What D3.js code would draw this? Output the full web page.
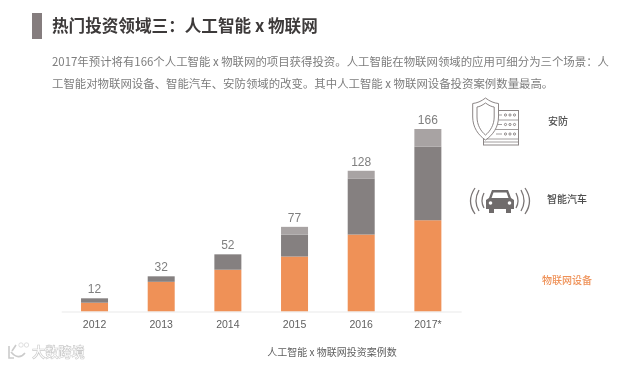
<!DOCTYPE html>
<html>
<head>
<meta charset="utf-8">
<script src="https://cdn.jsdelivr.net/npm/d3@7"></script>
<style>
html,body{margin:0;padding:0;background:#fff;}
svg{display:block;filter:blur(0.35px);}
text{font-family:"Noto Sans CJK SC","Liberation Sans",sans-serif;}
</style>
</head>
<body>
<svg id="chart" width="640" height="365"></svg>
<script>
// 数据
var years = ['2012','2013','2014','2015','2016','2017*'];
var iot = [8,27,38,50,70,83];      // 物联网设备
var car = [4,5,14,20,51,67];       // 智能汽车
var security = [0,0,0,7,7,16];     // 安防
var totals = [12,32,52,77,128,166];
var seriesKeys = ['iot','car','security'];
var seriesColors = ['#ef9157','#858080','#a8a3a3'];
var seriesNames = ['物联网设备','智能汽车','安防'];

var title = '热门投资领域三：人工智能 x 物联网';
var desc = [
	'2017年预计将有166个人工智能 x 物联网的项目获得投资。人工智能在物联网领域的应用可细分为三个场景：人',
	'工智能对物联网设备、智能汽车、安防领域的改变。其中人工智能 x 物联网设备投资案例数量最高。'
];
var xTitle = '人工智能 x 物联网投资案例数';

var svg = d3.select('#chart');

// 标题
svg.append('rect').attr('x',32).attr('y',13).attr('width',10).attr('height',26).attr('fill','#857d7e');
svg.append('text').attr('x',52).attr('y',32).attr('font-size',16.6).attr('font-weight',700)
	.attr('fill','#3d3a3a').text(title);

svg.selectAll('.desc').data(desc).enter().append('text')
	.attr('class','desc')
	.attr('x',52)
	.attr('y',function(d,i){return 65.5+i*22})
	.attr('font-size',11.42)
	.attr('fill','#7d7d7d')
	.text(function(d){return d});

// 比例尺
var x = d3.scaleBand().domain(years).range([61.2,461.2]).paddingInner(0.595).paddingOuter(0.2975);
var y = d3.scaleLinear().domain([0,166]).range([311.5,129]);

var rows = years.map(function(year,i){
	return {year:year,iot:iot[i],car:car[i],security:security[i]};
});
var stack = d3.stack().keys(seriesKeys)(rows);

svg.append('g').selectAll('g').data(stack).enter().append('g')
	.attr('fill',function(d,i){return seriesColors[i]})
	.selectAll('rect').data(function(d){return d}).enter().append('rect')
	.attr('x',function(d){return x(d.data.year)})
	.attr('y',function(d){return y(d[1])})
	.attr('width',x.bandwidth())
	.attr('height',function(d){return y(d[0])-y(d[1])});

// 坐标轴
var axis = svg.append('g').attr('transform','translate(0,311.5)')
	.call(d3.axisBottom(x).tickSize(0).tickPadding(9));
axis.select('.domain').attr('stroke','#e9e9e9');
axis.selectAll('text').attr('font-size',10.5).attr('fill','#5f5f5f')
	.style('font-family','"Liberation Sans",sans-serif');

// 总数
svg.selectAll('.total').data(totals).enter().append('text')
	.attr('class','total')
	.attr('x',function(d,i){return x(years[i])+x.bandwidth()/2})
	.attr('y',function(d){return y(d)-5})
	.attr('text-anchor','middle')
	.attr('font-size',12)
	.attr('fill','#7f7f7f')
	.style('font-family','"Liberation Sans",sans-serif')
	.text(function(d){return d});

svg.append('text').attr('x',332).attr('y',356).attr('text-anchor','middle')
	.attr('font-size',10).attr('fill','#5f5f5f').text(xTitle);

// 右侧标注
svg.append('text').attr('x',548).attr('y',125).attr('font-size',10).attr('font-weight',500).attr('fill','#4d4d4d').text(seriesNames[2]);
svg.append('text').attr('x',547).attr('y',203).attr('font-size',10).attr('font-weight',500).attr('fill','#4d4d4d').text(seriesNames[1]);
svg.append('text').attr('x',542).attr('y',284).attr('font-size',10).attr('font-weight',500).attr('fill',seriesColors[0]).text(seriesNames[0]);

// 图标：服务器 + 盾牌
var shield = svg.append('g').attr('fill','none').attr('stroke','#8c8686').attr('stroke-width',1);
shield.append('rect').attr('x',483.5).attr('y',110.5).attr('width',35).attr('height',34.5);
shield.append('path').attr('d','M483 120 H518 M483 129.5 H518 M483 139 H518 M483 142 H518').attr('stroke-width',0.8);
shield.append('path').attr('d','M496 115 H502 M496 124.5 H502 M496 134 H502').attr('stroke-width',0.8);
[115,124.5,134].forEach(function(cy){
	[505.5,510,514.5].forEach(function(cx){
		shield.append('circle').attr('cx',cx).attr('cy',cy).attr('r',1.1);
	});
});
shield.append('path').attr('fill','#fff').attr('d','M485.5 98 C481 101.5 477 103 472.7 103.5 L472.7 117 C472.7 127 478 135 485.5 140 C493 135 498.5 127 498.5 117 L498.5 103.5 C494 103 490 101.5 485.5 98 Z');
shield.append('path').attr('d','M485.5 103 C482 105.5 479.5 106.7 477 107 L477 117 C477 125 481 131.5 485.5 135 C490 131.5 494.2 125 494.2 117 L494.2 107 C491.5 106.7 489 105.5 485.5 103 Z');

// 图标：汽车 + 信号
var carIcon = svg.append('g');
carIcon.append('path').attr('fill','#6f6b6b')
	.attr('d','M492 190 H508 L511 198 L514 200 V209 H511 V213 H506 V209 H494 V213 H489 V209 H486 V200 L489 198 Z');
carIcon.append('path').attr('fill','#fff').attr('d','M493.5 192.5 H506.5 L508.5 198 H491.5 Z');
carIcon.append('circle').attr('cx',490.5).attr('cy',203).attr('r',1.8).attr('fill','#fff');
carIcon.append('circle').attr('cx',509.5).attr('cy',203).attr('r',1.8).attr('fill','#fff');
var waves = carIcon.append('g').attr('fill','none').attr('stroke','#7a7575').attr('stroke-width',1.3);
[ 'M484 193 Q480 201 484 208','M479 190 Q473 201 479 211','M475 188 Q466 201 475 214',
  'M516 193 Q520 201 516 208','M521 190 Q527 201 521 211','M525 188 Q534 201 525 214' ].forEach(function(d){
	waves.append('path').attr('d',d);
});

// 水印
var wm = svg.append('g').attr('fill','#fff').attr('stroke','#cbcbcb').attr('stroke-width',0.6);
wm.append('path').attr('fill','none').attr('stroke-width',1.6)
	.attr('d','M9 346 V358 H14 M11 352 C16 358 21 358 25 353 M16 345 L12 351');
wm.append('circle').attr('cx',21).attr('cy',345).attr('r',2.2);
wm.append('circle').attr('cx',26.5).attr('cy',345).attr('r',2.2);
wm.append('text').attr('x',32).attr('y',357).attr('font-size',13.2).attr('font-weight',700).text('大数跨境');
</script>
</body>
</html>
